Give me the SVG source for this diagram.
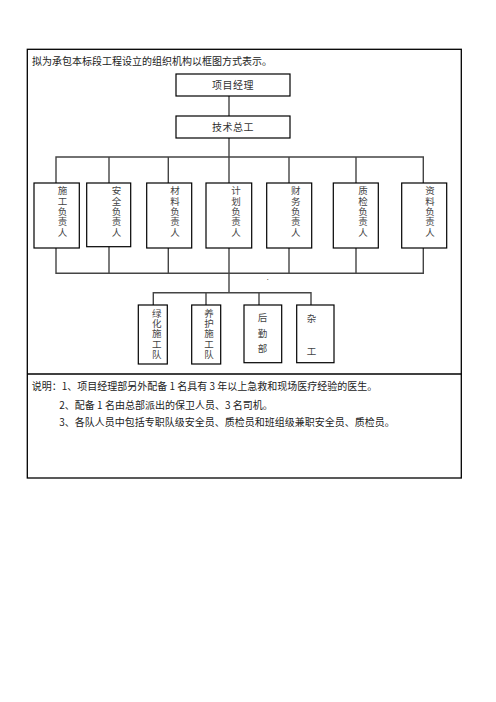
<svg xmlns="http://www.w3.org/2000/svg" width="496" height="702" viewBox="0 0 496 702">
<style>
text{font-family:"Noto Sans CJK SC","Noto Sans",sans-serif;fill:#222;}
.t{font-size:10px;}
.b{font-size:10px;fill:#333;text-anchor:middle;}
.v{font-size:9.5px;fill:#444;writing-mode:vertical-rl;letter-spacing:0.8px;}
.box{fill:#fff;stroke:#000;stroke-width:1.2;}
.frame{fill:none;stroke:#000;stroke-width:1.3;}
.c{fill:none;stroke:#444;stroke-width:1.4;}
</style>
<rect width="496" height="702" fill="#fff"/>
<g id="frame">
<rect class="frame" x="27.3" y="49.3" width="434" height="428.7"/>
<line class="frame" x1="27.3" y1="374" x2="461.3" y2="374"/>
</g>
<text class="t" x="32" y="64.5">拟为承包本标段工程设立的组织机构以框图方式表示。</text>
<g id="connectors">
<line class="c" x1="229" y1="96" x2="229" y2="116"/>
<line class="c" x1="229" y1="138" x2="229" y2="293"/>
<polyline class="c" points="56,183 56,157 423.3,157 423.3,183"/>
<line class="c" x1="109" y1="157" x2="109" y2="183"/>
<line class="c" x1="168.3" y1="157" x2="168.3" y2="183"/>
<line class="c" x1="289" y1="157" x2="289" y2="183"/>
<line class="c" x1="356" y1="157" x2="356" y2="183"/>
<polyline class="c" points="56,248 56,273.3 423.3,273.3 423.3,248"/>
<line class="c" x1="109" y1="246.7" x2="109" y2="273.3"/>
<line class="c" x1="168.3" y1="248" x2="168.3" y2="273.3"/>
<line class="c" x1="289" y1="248" x2="289" y2="273.3"/>
<line class="c" x1="356" y1="248" x2="356" y2="273.3"/>
<polyline class="c" points="153.3,305 153.3,292.7 311,292.7 311,305"/>
<line class="c" x1="206" y1="292.7" x2="206" y2="305"/>
<line class="c" x1="259" y1="292.7" x2="259" y2="305"/>
</g>
<g id="n-pm"><rect class="box" x="176" y="74" width="114" height="22"/><text class="b" x="233" y="88.5" letter-spacing="0.5">项目经理</text></g>
<g id="n-tech"><rect class="box" x="176" y="116" width="114" height="22"/><text class="b" x="233" y="130.5" letter-spacing="0.5">技术总工</text></g>
<g id="n-sg"><rect class="box" x="34" y="183" width="45.3" height="65"/><text class="v" x="62.5" y="186">施工负责人</text></g>
<g id="n-aq"><rect class="box" x="86.7" y="183" width="44" height="63.7"/><text class="v" x="116.5" y="186">安全负责人</text></g>
<g id="n-cl"><rect class="box" x="146.7" y="183" width="45" height="65"/><text class="v" x="175" y="186">材料负责人</text></g>
<g id="n-jh"><rect class="box" x="206" y="183" width="45.7" height="65"/><text class="v" x="236" y="186">计划负责人</text></g>
<g id="n-cw"><rect class="box" x="266.7" y="183" width="45" height="65"/><text class="v" x="295.7" y="186">财务负责人</text></g>
<g id="n-zj"><rect class="box" x="333.3" y="183" width="45" height="65"/><text class="v" x="363" y="186">质检负责人</text></g>
<g id="n-zl"><rect class="box" x="401.7" y="183" width="45" height="65"/><text class="v" x="430" y="186">资料负责人</text></g>
<text x="266.7" y="280" style="font-size:7px;fill:#333">.</text>
<g id="n-lh"><rect class="box" x="138.3" y="305" width="29" height="59"/><text class="v" x="156.7" y="308.5">绿化施工队</text></g>
<g id="n-yh"><rect class="box" x="191.7" y="305" width="29" height="59"/><text class="v" x="209" y="308.5">养护施工队</text></g>
<g id="n-hq"><rect class="box" x="244" y="305" width="37.7" height="57.7"/><text class="v" x="262.5" y="313" style="letter-spacing:6px">后勤部</text></g>
<g id="n-zg"><rect class="box" x="296.7" y="305" width="37.3" height="57.7"/><text class="v" x="311.5" y="314" style="letter-spacing:23.5px">杂工</text></g>
<g id="notes">
<text class="t" x="31.7" y="389.5">说明：1、项目经理部另外配备 1 名具有 3 年以上急救和现场医疗经验的医生。</text>
<text class="t" x="59.3" y="408.5">2、配备 1 名由总部派出的保卫人员、3 名司机。</text>
<text class="t" x="59.3" y="426">3、各队人员中包括专职队级安全员、质检员和班组级兼职安全员、质检员。</text>
</g>
</svg>
